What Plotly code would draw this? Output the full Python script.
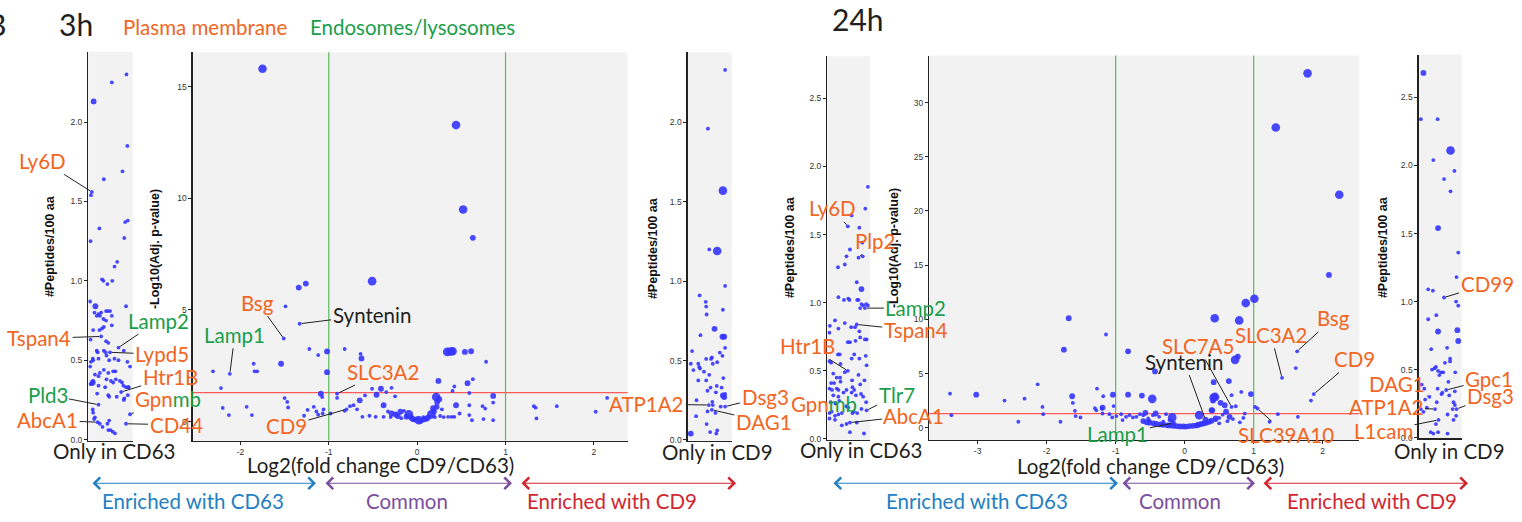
import plotly.graph_objects as go

W, H = 1522, 522

# ------------------------------------------------------------------ DATA
# abundance class of each protein -> marker size (1 small, 2 medium, 3 large)
# ---- 3h : only in CD63 (jitter, #peptides/100 aa, class)
a3_x = [0.86,0.53,0.12,0.88,0.77,0.35,0.08,0.06,0.89,0.83,0.25,0.81,0.05,0.65,0.59,0.31,0.34,0.54,0.43,0.04,
        0.16,0.85,0.14,0.23,0.29,0.40,0.44,0.49,0.19,0.26,0.34,0.40,0.53,0.35,0.31,0.25,0.11,0.53,0.29,0.40,
        0.45,0.05,0.68,0.80,0.19,0.21,0.35,0.39,0.10,0.11,0.23,0.41,0.47,0.59,0.68,0.06,0.04,0.88,0.94,0.26,
        0.35,0.45,0.56,0.61,0.15,0.23,0.10,0.08,0.11,0.05,0.41,0.51,0.56,0.62,0.71,0.76,0.79,0.85,0.91,0.23,
        0.38,0.20,0.64,0.45,0.47,0.80,0.81,0.89,0.90,0.74,0.23,0.10,0.11,0.15,0.13,0.94,0.47,0.43,0.26,0.32,
        0.45,0.50,0.55,0.60,0.85,0.21,0.49]
a3_y = [2.30,2.25,2.13,1.85,1.69,1.64,1.56,1.54,1.38,1.37,1.33,1.27,1.25,1.12,1.09,1.01,1.00,1.00,0.98,0.87,
        0.84,0.84,0.80,0.79,0.80,0.81,0.81,0.81,0.78,0.78,0.76,0.75,0.78,0.71,0.70,0.69,0.69,0.72,0.65,0.62,
        0.61,0.63,0.58,0.56,0.56,0.55,0.56,0.55,0.51,0.50,0.51,0.53,0.50,0.51,0.50,0.49,0.46,0.49,0.46,0.42,
        0.44,0.42,0.43,0.43,0.41,0.40,0.36,0.35,0.37,0.35,0.38,0.37,0.36,0.38,0.37,0.36,0.34,0.33,0.33,0.34,
        0.33,0.29,0.27,0.28,0.27,0.25,0.26,0.28,0.33,0.30,0.22,0.19,0.17,0.14,0.13,0.16,0.12,0.10,0.10,0.08,
        0.06,0.06,0.05,0.04,0.10,0.11,0.55]
a3_s = [1,1,2,1,1,1,1,1,1,1,1,1,1,1,1,1,1,1,1,1,
        2,1,1,1,1,1,1,1,1,1,1,1,1,1,1,1,1,1,1,1,
        1,1,1,1,1,1,1,1,1,1,1,1,1,1,1,1,1,1,1,1,
        1,1,1,1,1,1,2,1,1,1,1,1,1,1,1,1,1,1,1,1,
        1,1,1,1,1,1,1,1,1,1,1,1,1,1,1,1,1,1,1,1,
        1,1,1,1,1,1,1]

# ---- 3h : volcano (log2 FC CD9/CD63, -log10 adj p, class)
b3_x = [-1.75,0.44,0.52,0.63,-0.51,-1.34,-1.26,-1.49,-1.33,-1.51,-1.22,-1.02,-1.12,-0.82,-0.64,-0.63,-1.54,-1.85,-1.84,-1.81,
        -2.31,-2.12,-1.02,0.34,0.38,0.40,0.54,0.61,0.78,0.24,0.57,0.63,0.59,0.42,0.40,0.44,0.48,0.35,0.39,0.42,
        0.59,0.59,0.62,0.74,0.77,0.86,0.86,0.86,0.75,-2.22,-2.20,-2.13,-1.93,-1.87,-1.50,-1.47,-1.46,-1.28,-1.09,-1.075,
        -0.906,-0.906,-1.24,-1.17,-1.14,-1.12,-1.07,-1.06,-0.98,-0.82,-0.80,-0.51,-0.41,-0.29,-0.35,-0.46,-0.25,-0.59,-0.65,-0.72,
        -0.76,-0.68,-0.62,-0.54,-0.47,-0.38,-0.38,-0.29,-0.245,-0.19,-0.15,-0.094,-0.068,-0.026,0.019,0.068,0.12,0.16,0.19,0.22,
        0.226,0.215,-0.22,-0.12,-0.05,0.04,0.10,0.14,0.20,0.26,0.30,-0.30,-0.18,0.00,0.07,0.18,0.25,0.28,-0.33,1.32,
        1.34,1.35,1.58,2.02,2.15]
b3_y = [15.8,13.28,9.5,8.23,6.29,6.0,6.18,5.16,4.38,3.72,3.25,3.14,2.98,3.25,3.03,2.83,2.59,2.59,2.25,2.25,
        2.25,2.14,2.21,3.12,3.14,3.15,3.12,3.15,2.68,1.82,1.72,1.90,1.28,1.57,1.37,0.73,0.36,0.21,0.21,0.21,
        0.73,0.29,0.06,0.69,0.58,1.15,0.85,0.06,0.11,1.50,0.61,0.29,0.66,0.29,1.05,0.88,0.63,0.26,1.25,1.10,
        1.25,1.06,0.52,0.66,0.45,0.31,0.36,0.54,0.36,0.48,0.55,1.47,1.47,1.51,1.32,1.20,1.13,1.17,0.95,0.73,
        0.69,0.55,0.21,0.26,0.21,0.73,0.21,0.36,0.32,0.44,0.48,0.33,0.18,0.09,0.06,0.09,0.17,0.32,0.46,0.66,
        0.88,1.10,0.25,0.22,0.12,0.04,0.12,0.22,0.20,0.25,0.20,0.20,0.15,0.15,0.20,0.60,1.00,0.55,0.45,0.69,
        0.62,0.14,0.69,0.44,1.06]
b3_s = [3,3,3,2,3,2,2,1,1,1,1,2,1,1,1,2,2,1,1,1,
        1,1,2,3,3,3,2,2,1,2,2,1,1,1,1,2,1,1,1,1,
        1,1,1,1,1,2,1,1,1,1,1,1,1,1,1,1,1,1,2,1,
        1,1,1,1,1,1,1,1,1,1,1,1,2,1,1,2,1,1,2,1,
        1,1,1,1,1,2,1,2,2,2,1,3,2,2,3,2,2,3,2,2,
        2,3,2,2,2,2,2,1,1,1,1,1,1,1,1,2,2,1,1,1,
        1,1,1,1,1]

# ---- 3h : only in CD9
c3_x = [0.85,0.46,0.80,0.49,0.67,0.85,0.27,0.41,0.42,0.43,0.80,0.61,0.29,0.79,0.83,0.85,0.10,0.73,0.79,0.42,
        0.55,0.53,0.67,0.07,0.24,0.26,0.28,0.13,0.37,0.57,0.49,0.81,0.24,0.42,0.52,0.66,0.45,0.77,0.64,0.80,
        0.83,0.85,0.20,0.56,0.57,0.48,0.75,0.85,0.45,0.55,0.63,0.19,0.43,0.51,0.65,0.67,0.07]
c3_y = [2.33,1.96,1.57,1.20,1.19,0.97,0.91,0.87,0.84,0.79,0.82,0.70,0.66,0.65,0.65,0.58,0.56,0.55,0.53,0.51,
        0.52,0.51,0.49,0.48,0.48,0.46,0.45,0.44,0.43,0.48,0.41,0.39,0.375,0.375,0.33,0.34,0.31,0.33,0.30,0.28,
        0.27,0.29,0.25,0.24,0.22,0.22,0.21,0.21,0.18,0.19,0.17,0.15,0.10,0.05,0.04,0.06,0.04]
c3_s = [1,1,3,1,3,1,1,1,1,1,1,2,1,2,2,1,1,1,1,1,
        1,1,1,1,1,1,1,1,1,1,1,1,1,1,1,1,1,1,1,2,
        2,1,1,1,1,1,1,1,1,1,1,1,1,1,1,1,2]

# ---- 24h : only in CD63
d24_x = [0.95,0.89,0.57,0.48,0.75,0.82,0.53,0.45,0.73,0.83,0.41,0.25,0.69,0.80,0.26,0.49,0.52,0.39,0.70,0.73,
         0.80,0.84,0.91,0.95,0.77,0.88,0.18,0.06,0.41,0.69,0.56,0.65,0.26,0.05,0.75,0.88,0.92,0.48,0.53,0.66,
         0.77,0.25,0.29,0.63,0.90,0.05,0.09,0.57,0.75,0.92,0.31,0.48,0.41,0.14,0.73,0.22,0.30,0.31,0.87,0.58,
         0.09,0.16,0.77,0.05,0.11,0.22,0.26,0.59,0.63,0.45,0.38,0.67,0.79,0.14,0.26,0.57,0.84,0.91,0.08,0.19,
         0.28,0.45,0.49,0.80,0.92,0.05,0.10,0.18,0.26,0.34,0.59,0.62,0.70,0.05,0.18,0.34,0.45,0.53,0.69,0.53,
         0.86]
d24_y = [1.85,1.69,1.64,1.56,1.55,1.44,1.39,1.34,1.33,1.34,1.28,1.26,1.15,1.10,1.04,1.03,1.02,1.02,1.02,1.02,
         0.99,0.98,0.99,0.98,0.96,0.96,0.87,0.83,0.85,0.84,0.82,0.82,0.81,0.78,0.79,0.73,0.73,0.71,0.71,0.72,
         0.745,0.62,0.62,0.62,0.61,0.57,0.56,0.59,0.59,0.54,0.55,0.50,0.49,0.48,0.47,0.45,0.45,0.42,0.43,0.43,
         0.41,0.41,0.40,0.37,0.36,0.37,0.36,0.38,0.36,0.36,0.34,0.32,0.33,0.32,0.31,0.34,0.31,0.27,0.27,0.26,
         0.28,0.24,0.23,0.22,0.21,0.19,0.20,0.17,0.18,0.19,0.19,0.20,0.19,0.15,0.14,0.10,0.11,0.12,0.12,0.05,
         0.04]
d24_s = [1,1,1,1,1,1,1,1,1,1,1,1,1,2,1,1,1,1,1,1,
         1,1,1,1,1,1,1,1,1,1,1,1,1,1,1,1,1,1,1,1,
         1,1,1,1,1,1,1,1,1,1,1,1,1,1,1,1,1,1,1,1,
         1,1,1,1,1,1,1,1,1,1,1,1,1,1,1,1,1,1,1,1,
         1,1,1,1,1,1,1,1,1,1,1,1,1,1,1,1,1,1,1,1,
         1]

# ---- 24h : volcano
e24_x = [1.78,1.32,2.24,2.09,1.01,0.885,0.435,0.79,-1.68,-1.75,-1.14,-0.82,1.63,1.61,1.41,0.73,0.77,-0.43,0.42,0.64,
         1.87,1.83,0.96,0.82,0.68,0.44,0.42,0.52,0.41,0.40,0.58,0.60,0.68,0.74,1.02,1.055,1.23,1.35,1.64,-0.47,
         -0.62,-0.82,-1.04,-1.27,-1.18,-1.19,-1.03,-1.19,-1.63,-1.62,-1.59,-1.58,-1.51,-2.13,-2.32,-2.61,-3.02,-3.40,-3.38,-2.41,
         -2.06,-2.05,-1.80,-1.30,-1.28,-1.20,-1.09,-1.05,-0.99,-0.92,-0.90,-0.85,-0.80,-0.75,-0.70,-0.65,-0.60,-0.57,-0.53,-0.51,
         -0.46,-0.42,-0.37,-0.31,-0.27,-0.22,-0.60,-0.51,-0.41,-0.31,-0.22,-0.12,-0.02,0.07,0.17,0.24,0.31,0.39,0.45,-0.55,
         -0.45,-0.35,-0.25,-0.17,-0.07,0.02,0.12,0.20,0.28,0.35,-0.18,0.21,0.39,0.45,0.50,0.55,0.62,0.70,0.80,0.85,
         0.87,0.65,0.50,0.30,-0.17]
e24_y = [32.7,27.7,21.5,14.1,11.9,11.5,10.1,9.9,10.1,7.2,8.6,7.05,7.05,5.5,4.6,6.26,6.56,5.19,4.2,4.3,
         3.1,2.5,3.1,3.3,3.0,2.84,2.78,2.3,2.5,1.6,2.07,1.47,1.92,1.98,1.92,1.77,0.55,1.25,1.0,2.66,
         2.96,3.05,3.05,3.6,2.9,1.86,2.0,1.31,2.9,2.29,1.56,1.07,0.95,4.0,2.68,2.5,3.05,3.14,1.16,0.55,
         1.92,1.25,0.55,1.8,1.6,1.75,1.25,0.95,1.07,1.25,0.70,1.0,1.16,0.95,1.0,1.25,1.16,1.37,0.85,0.64,
         1.16,1.31,1.0,0.55,1.25,0.70,0.61,0.46,0.34,0.27,0.21,0.15,0.12,0.15,0.21,0.34,0.46,0.64,0.85,0.50,
         0.40,0.30,0.22,0.18,0.12,0.10,0.17,0.27,0.40,0.55,0.95,1.16,1.62,0.70,0.90,1.20,0.60,0.80,0.50,0.90,
         1.30,1.00,0.40,0.75,0.42]
e24_s = [3,3,3,2,3,3,3,3,2,2,1,2,1,1,1,3,2,2,2,2,
         1,1,2,1,1,3,3,2,2,2,2,2,1,1,1,1,1,1,1,3,
         2,2,2,1,1,2,1,1,2,1,1,1,1,1,1,1,2,1,1,1,
         1,1,1,1,1,1,1,1,1,1,1,1,1,1,1,1,1,2,1,1,
         1,2,1,1,1,1,2,2,2,2,2,2,2,2,2,2,2,2,2,2,
         2,2,2,2,2,2,2,2,2,2,3,3,2,1,1,1,1,1,1,1,
         1,2,1,2,2]

# ---- 24h : only in CD9
f24_x = [0.11,0.05,0.44,0.74,0.34,0.83,0.59,0.74,0.45,0.92,0.88,0.22,0.33,0.59,0.87,0.92,0.41,0.22,0.45,0.90,
         0.92,0.29,0.66,0.73,0.73,0.61,0.40,0.37,0.31,0.45,0.52,0.57,0.85,0.48,0.69,0.07,0.44,0.13,0.55,0.53,
         0.71,0.84,0.64,0.25,0.15,0.42,0.05,0.11,0.19,0.38,0.81,0.84,0.88,0.79,0.67,0.81,0.87,0.46,0.40,0.28,
         0.34,0.45,0.67]
f24_y = [2.68,2.34,2.34,2.11,2.04,1.96,1.90,1.81,1.54,1.36,1.18,1.09,1.08,1.03,1.00,0.97,0.90,0.87,0.78,0.79,
         0.71,0.65,0.66,0.58,0.56,0.55,0.52,0.51,0.50,0.49,0.48,0.48,0.48,0.46,0.41,0.39,0.36,0.36,0.33,0.32,
         0.31,0.34,0.35,0.30,0.28,0.26,0.21,0.19,0.22,0.21,0.26,0.24,0.21,0.21,0.17,0.13,0.16,0.13,0.10,0.04,
         0.03,0.04,0.03]
f24_s = [2,1,1,3,1,1,1,1,2,1,1,1,1,1,1,1,1,1,2,2,
         2,1,1,1,1,1,1,1,1,1,1,1,1,1,1,1,1,1,1,1,
         1,1,1,1,1,1,1,1,1,1,1,1,1,1,1,1,1,1,1,1,
         1,1,1]

# ---- labelled proteins: text, x, y, category (pm = plasma membrane, endo = endosome/lysosome, both, other)
a3_lab = ["Ly6D", "Tspan4", "Lamp2", "Lypd5", "Htr1B", "Gpnmb", "CD44", "Pld3", "AbcA1"]
a3_lab_x = [0.08, 0.29, 0.68, 0.49, 0.74, 0.94, 0.85, 0.23, 0.21]
a3_lab_y = [1.56, 0.65, 0.58, 0.55, 0.30, 0.16, 0.10, 0.22, 0.11]
a3_lab_c = ["pm", "pm", "endo", "pm", "pm", "both", "pm", "endo", "pm"]

b3_lab = ["Bsg", "Syntenin", "Lamp1", "SLC3A2", "CD9"]
b3_lab_x = [-1.51, -1.33, -2.12, -0.906, -0.80]
b3_lab_y = [3.72, 4.38, 2.14, 1.25, 0.55]
b3_lab_c = ["pm", "other", "endo", "pm", "pm"]

c3_lab = ["ATP1A2", "Dsg3", "DAG1"]
c3_lab_x = [0.48, 0.85, 0.55]
c3_lab_y = [0.22, 0.21, 0.19]
c3_lab_c = ["pm", "pm", "pm"]

d24_lab = ["Ly6D", "Plp2", "Lamp2", "Tspan4", "Htr1B", "Gpnmb", "Tlr7", "AbcA1"]
d24_lab_x = [0.48, 0.73, 0.88, 0.69, 0.48, 0.57, 0.92, 0.53]
d24_lab_y = [1.56, 1.33, 0.96, 0.84, 0.50, 0.34, 0.21, 0.12]
d24_lab_c = ["pm", "pm", "endo", "pm", "pm", "both", "endo", "pm"]

e24_lab = ["Syntenin", "SLC7A5", "SLC3A2", "Bsg", "CD9", "SLC39A10", "Lamp1"]
e24_lab_x = [0.30, 0.68, 1.41, 1.63, 1.87, 1.055, -0.17]
e24_lab_y = [0.75, 1.92, 4.6, 7.05, 3.1, 1.77, 0.42]
e24_lab_c = ["other", "pm", "pm", "pm", "pm", "pm", "endo"]

f24_lab = ["CD99", "Gpc1", "Dsg3", "DAG1", "ATP1A2", "L1cam"]
f24_lab_x = [0.59, 0.64, 0.88, 0.25, 0.38, 0.46]
f24_lab_y = [1.03, 0.35, 0.21, 0.30, 0.21, 0.13]
f24_lab_c = ["pm", "pm", "pm", "pm", "pm", "pm"]

PVAL_CUT = 1.3          # -log10(0.05)
FC_CUT = [-1, 1]        # log2 fold change thresholds

# ------------------------------------------------------------------ STYLE / LAYOUT
ORANGE = "#f26522"
GREEN = "#1a9e4a"
BLACK = "#231f20"
COLORS = {"pm": ORANGE, "endo": GREEN, "other": BLACK}
SIZE_MAP = {1: 3.8, 2: 5.8, 3: 8.6}
DOT = "rgb(52,52,255)"
LABEL_FONT = "Lato"
LAB_SIZE = 20.5
TICK_FONT = dict(family="Liberation Sans, Arial", size=8.5, color="#333")


def px(x):
    return x / W


def py(y):
    return 1 - y / H


# panel geometry (pixels) and axis ranges
panels = [
    dict(id="", dom=(88.3, 132.7, 52, 444), xr=[0, 1], yr=[-0.006, 2.444], strip=True,
         yt=[0, 0.5, 1, 1.5, 2], data=(a3_x, a3_y, a3_s)),
    dict(id="2", dom=(192.7, 627.5, 52.7, 444), xr=[-2.54, 2.38], yr=[-0.853, 16.54], strip=False,
         yt=[0, 5, 10, 15], xt=[-2, -1, 0, 1, 2], data=(b3_x, b3_y, b3_s)),
    dict(id="3", dom=(687.7, 731.7, 52.7, 444), xr=[0, 1], yr=[-0.004, 2.441], strip=True,
         yt=[0, 0.5, 1, 1.5, 2], data=(c3_x, c3_y, c3_s)),
    dict(id="4", dom=(827.3, 870, 56.7, 443.3), xr=[0, 1], yr=[-0.007, 2.808], strip=True,
         yt=[0, 0.5, 1, 1.5, 2, 2.5], data=(d24_x, d24_y, d24_s)),
    dict(id="5", dom=(929.3, 1359.3, 56, 443.3), xr=[-3.70, 2.53], yr=[-1.126, 34.34], strip=False,
         yt=[0, 5, 10, 15, 20, 25, 30], xt=[-3, -2, -1, 0, 1, 2], data=(e24_x, e24_y, e24_s)),
    dict(id="6", dom=(1418.7, 1461.7, 55, 441.7), xr=[0, 1], yr=[-0.005, 2.815], strip=True,
         yt=[0, 0.5, 1, 1.5, 2, 2.5], data=(f24_x, f24_y, f24_s)),
]

fig = go.Figure()
layout = dict(width=W, height=H, margin=dict(l=0, r=0, t=0, b=0, pad=0),
              paper_bgcolor="white", plot_bgcolor="#f2f2f2", showlegend=False,
              font=dict(family=LABEL_FONT, color=BLACK))

for p in panels:
    xs, ys, ss = p["data"]
    fig.add_trace(go.Scatter(
        x=xs, y=ys, mode="markers", xaxis="x" + p["id"], yaxis="y" + p["id"],
        marker=dict(size=[SIZE_MAP[s] for s in ss], color=DOT, opacity=0.9, line=dict(width=0)),
        hoverinfo="skip"))
    x0, x1, t0, b0 = p["dom"]
    xa = dict(domain=[px(x0), px(x1)], range=p["xr"], anchor="y" + p["id"],
              showline=True, linecolor="#222", linewidth=1.3, showgrid=False, zeroline=False,
              fixedrange=True)
    if p["strip"]:
        xa.update(showticklabels=False, ticks="")
    else:
        xa.update(tickvals=p["xt"], ticktext=[str(v) for v in p["xt"]], ticks="outside",
                  ticklen=3, tickwidth=1, tickcolor="#222", tickfont=TICK_FONT)
    ya = dict(domain=[py(b0), py(t0)], range=p["yr"], anchor="x" + p["id"],
              showline=True, linecolor="#222", linewidth=1.3, showgrid=False, zeroline=False,
              tickvals=p["yt"], ticks="outside", ticklen=3, tickwidth=1, tickcolor="#222",
              tickfont=TICK_FONT, fixedrange=True)
    if p["strip"]:
        ya["ticktext"] = ["%.1f" % v for v in p["yt"]]
    else:
        ya["ticktext"] = [str(v) for v in p["yt"]]
    layout["xaxis" + p["id"]] = xa
    layout["yaxis" + p["id"]] = ya

shapes = []
for aid in ["2", "5"]:
    shapes.append(dict(type="line", xref="x%s domain" % aid, yref="y" + aid, x0=0, x1=1,
                       y0=PVAL_CUT, y1=PVAL_CUT, line=dict(color="#ff5a5a", width=1.2), layer="below"))
    for v in FC_CUT:
        shapes.append(dict(type="line", xref="x" + aid, yref="y%s domain" % aid, x0=v, x1=v,
                           y0=0, y1=1, line=dict(color="#5cb85c", width=1.2), layer="below"))
layout["shapes"] = shapes

ann = []


def txt(text, x, y, size, color, **kw):
    d = dict(text=text, x=px(x), y=py(y), xref="paper", yref="paper", showarrow=False,
             font=dict(family=LABEL_FONT, size=size, color=color), xanchor="center", yanchor="middle")
    d.update(kw)
    ann.append(d)


# titles
txt("B", -4, 24, 30, BLACK)
txt("3h", 76, 24, 30, BLACK)
txt("Plasma membrane", 205, 27, 20.5, ORANGE)
txt("Endosomes/lysosomes", 412, 27, 20.5, GREEN)
txt("24h", 858, 19, 30, BLACK)

# bottom labels
txt("Only in CD63", 114, 454, 20.5, BLACK)
txt("Log2(fold change CD9/CD63)", 380, 469, 20.5, BLACK)
txt("Only in CD9", 717, 455, 20.5, BLACK)
txt("Only in CD63", 861, 453, 20.5, BLACK)
txt("Log2(fold change CD9/CD63)", 1150, 470, 20.5, BLACK)
txt("Only in CD9", 1449, 454, 20.5, BLACK)

# axis titles
AX_FONT = dict(family="Liberation Sans, Arial", size=12.5, color="#111")
for (x, y, t) in [(50, 248, "#Peptides/100 aa"), (155, 251, "-Log10(Adj. p-value)"),
                  (653, 250, "#Peptides/100 aa"), (790, 249, "#Peptides/100 aa"),
                  (894, 250, "-Log10(Adj. p-value)"), (1383, 249, "#Peptides/100 aa")]:
    ann.append(dict(text="<b>%s</b>" % t, x=px(x), y=py(y), xref="paper", yref="paper",
                    showarrow=False, textangle=-90, font=AX_FONT, xanchor="center", yanchor="middle"))

# group arrows below the volcano plots
arrow_groups = [
    (91, 316, "Enriched with CD63", 193, "#2380c4"),
    (324, 512, "Common", 407, "#7b4f9e"),
    (520, 736, "Enriched with CD9", 612, "#d1262f"),
    (832, 1118, "Enriched with CD63", 977, "#2380c4"),
    (1121, 1255, "Common", 1180, "#7b4f9e"),
    (1262, 1468, "Enriched with CD9", 1372, "#d1262f"),
]
for (a0, a1, t, tc, col) in arrow_groups:
    ann.append(dict(text="", x=px(a1), y=py(487), xref="paper", yref="paper", showarrow=True,
                    ax=a0 - a1, ay=0, arrowside="end+start", arrowhead=4, startarrowhead=4,
                    arrowsize=1.9, startarrowsize=1.9, arrowwidth=1.2, arrowcolor=col,
                    standoff=0, startstandoff=0))
    txt(t, tc, 505, 20.5, col)

# protein labels with leader lines (pixel offsets of the text from the point)
offsets = {
    "": [(-49, -31), (-62, 2), (40, -27), (52, 2), (49, -15), (38, -15), (50, 1), (-51, -10), (-50, -2)],
    "2": [(-26, -36), (72, -9), (5, -39), (46, -22), (-60, 17)],
    "3": [(-62, -1), (40, -10), (52, 12)],
    "4": [(-15, -18), (17, -17), (51, 0), (59, 6), (-40, -25), (-28, 11), (30, -15), (64, -7)],
    "5": [(-21, -58), (-34, -61), (-11, -43), (36, -33), (41, -35), (29, 26), (-55, 11)],
    "6": [(43, -13), (43, -11), (34, -13), (-32, -13), (-49, -2), (-55, 11)],
}
label_sets = [("", a3_lab, a3_lab_x, a3_lab_y, a3_lab_c), ("2", b3_lab, b3_lab_x, b3_lab_y, b3_lab_c),
              ("3", c3_lab, c3_lab_x, c3_lab_y, c3_lab_c), ("4", d24_lab, d24_lab_x, d24_lab_y, d24_lab_c),
              ("5", e24_lab, e24_lab_x, e24_lab_y, e24_lab_c), ("6", f24_lab, f24_lab_x, f24_lab_y, f24_lab_c)]
for (aid, labs, lx, ly, lc) in label_sets:
    for i, (t, x, y, c) in enumerate(zip(labs, lx, ly, lc)):
        if c == "both":
            text = "<span style='color:%s'>%s</span><span style='color:%s'>%s</span>" % (
                ORANGE, t[:3], GREEN, t[3:])
            col = ORANGE
        else:
            text = t
            col = COLORS[c]
        ox, oy = offsets[aid][i]
        ann.append(dict(text=text, x=x, y=y, xref="x" + aid, yref="y" + aid, showarrow=True,
                        ax=ox, ay=oy, arrowhead=0, arrowwidth=1, arrowcolor="#222",
                        standoff=2, font=dict(family=LABEL_FONT, size=LAB_SIZE, color=col)))

layout["annotations"] = ann
fig.update_layout(**layout)

fig.write_html("out.html", config={"displayModeBar": False, "staticPlot": True},
               post_script="document.body.style.margin='0';document.body.style.overflow='hidden';")
